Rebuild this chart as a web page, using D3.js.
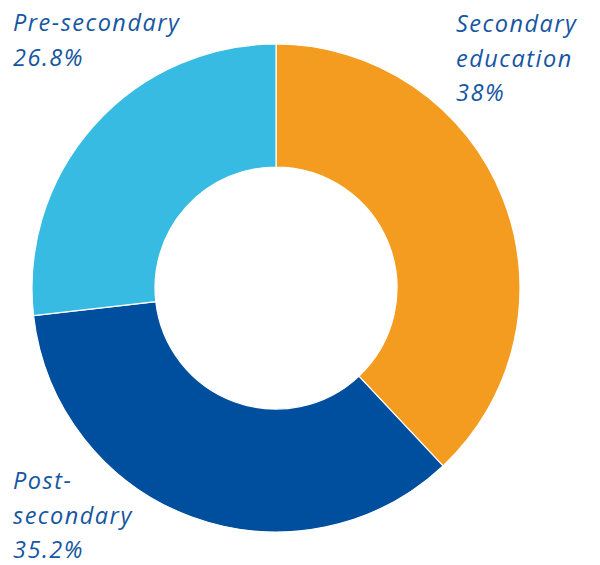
<!DOCTYPE html>
<html>
<head>
<meta charset="utf-8">
<script src="https://cdn.jsdelivr.net/npm/d3@7"></script>
<style>
  html, body { margin: 0; padding: 0; background: #ffffff; }
  svg text { font-family: "Open Sans", Roboto, sans-serif; font-style: italic; letter-spacing: 1.5px; }
</style>
</head>
<body>
<svg id="chart" width="600" height="565"></svg>
<script>
// Share of students by education level (percent)
const categories = ["Secondary education", "Post-secondary", "Pre-secondary"];
const values = [38, 35.2, 26.8];
const colors = ["#f39c1f", "#004f9f", "#38bbe2"];
const labelLines = [
  ["Secondary", "education", "38%"],
  ["Post-", "secondary", "35.2%"],
  ["Pre-secondary", "26.8%"]
];

const svg = d3.select("#chart");
const cx = 276, cy = 288, outerR = 244, innerR = 121;

const pie = d3.pie().sort(null).value(d => d.value);
const arc = d3.arc().innerRadius(innerR).outerRadius(outerR);

const data = categories.map((c, i) => ({ name: c, value: values[i], color: colors[i], lines: labelLines[i] }));

const g = svg.append("g").attr("transform", `translate(${cx},${cy})`);
g.selectAll("path")
  .data(pie(data))
  .join("path")
  .attr("d", arc)
  .attr("fill", d => d.data.color)
  .attr("stroke", "#ffffff")
  .attr("stroke-width", 1.2);

// Label anchors (baseline of first line of each text block)
const labelPos = [
  { x: 456, y: 32 },
  { x: 13, y: 489 },
  { x: 13, y: 31 }
];
const lineH = 34.5;

data.forEach((d, i) => {
  const t = svg.append("text")
    .attr("x", labelPos[i].x)
    .attr("y", labelPos[i].y)
    .attr("fill", "#1656a2")
    .attr("font-size", 23.5);
  d.lines.forEach((ln, j) => {
    t.append("tspan")
      .attr("x", labelPos[i].x)
      .attr("y", labelPos[i].y + j * lineH)
      .text(ln);
  });
});
</script>
</body>
</html>
